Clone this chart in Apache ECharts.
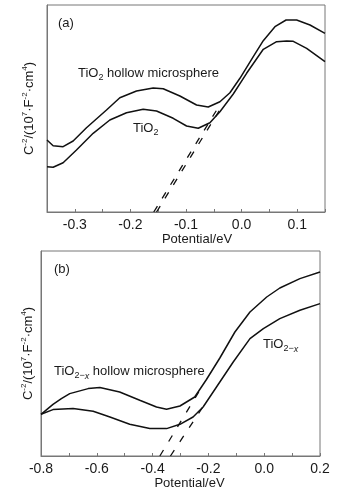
<!DOCTYPE html>
<html>
<head>
<meta charset="utf-8">
<script src="https://cdn.jsdelivr.net/npm/echarts@6/dist/echarts.min.js"></script>
<style>
html,body{margin:0;padding:0;background:#fff;}
#chart{width:345px;height:494px;}
</style>
</head>
<body>
<div id="chart"></div>
<script>
// ---------- Panel (a) data : TiO2 ----------
const aHollowX = [-0.350,-0.339,-0.321,-0.303,-0.279,-0.243,-0.219,-0.189,-0.159,-0.141,-0.111,-0.081,-0.060,-0.039,-0.021,-0.003,0.021,0.039,0.060,0.080,0.099,0.123,0.150];
const aHollowY = [72,66.3,65.3,71,84.3,102,114.3,121,124,123.3,116,107,105,110.3,119.3,133.7,155.3,171.3,185.3,192,192,187,178.7];
const aSolidX = [-0.350,-0.339,-0.321,-0.297,-0.267,-0.237,-0.207,-0.177,-0.153,-0.123,-0.099,-0.078,-0.057,-0.039,-0.015,0.009,0.039,0.063,0.081,0.093,0.117,0.150];
const aSolidY = [45.3,44.7,49.3,62,78.7,92,99.3,102.7,101,93.7,86,83.7,89.3,100.3,118,138.7,162.7,170.3,171,170.7,163.7,150.3];
const aTangent1X = [-0.158,-0.040];
const aTangent1Y = [0,106.3];
const aTangent2X = [-0.153,-0.035];
const aTangent2Y = [0,106];

// ---------- Panel (b) data : TiO2-x ----------
const bHollowX = [-0.800,-0.757,-0.727,-0.697,-0.631,-0.589,-0.518,-0.446,-0.386,-0.350,-0.302,-0.249,-0.207,-0.159,-0.105,-0.051,0.009,0.056,0.128,0.200];
const bHollowY = [41.7,51.7,57.4,62.4,67.4,68.4,64,55.7,49,46.7,50,59,76.5,98,124,144,159,168,177.4,184];
const bSolidX = [-0.800,-0.757,-0.685,-0.613,-0.553,-0.482,-0.410,-0.350,-0.302,-0.255,-0.219,-0.171,-0.111,-0.051,-0.003,0.056,0.128,0.200];
const bSolidY = [41.7,46.4,47.4,44.7,39,31.7,27.4,27.4,31.7,39,49,69,94,117.4,127.4,137.4,145.7,152.4];
const bTangent1X = [-0.374,-0.231];
const bTangent1Y = [0,65.7];
const bTangent2X = [-0.336,-0.216];
const bTangent2Y = [0,50.7];

// ---------- axis / text labels ----------
const xName = 'Potential/eV';
const yName = 'C{sup|-2}/(10{sup|7}·F{sup|-2}·cm{sup|4})';
const panelA = '(a)';
const panelB = '(b)';
const labA1 = 'TiO{sub|2} hollow microsphere';
const labA2 = 'TiO{sub|2}';
const labB1 = 'TiO{sub|2−}{subi|x} hollow microsphere';
const labB2 = 'TiO{sub|2−}{subi|x}';

const FONT = '"Liberation Sans", Arial, Helvetica, sans-serif';
const INK = '#1a1a1a';
const AXC = '#777';

function zip(xs, ys){ return xs.map((x,i)=>[x, ys[i]]); }
function makeFmt(step){
  return function(v){
    const k = v/step;
    if (Math.abs(k - Math.round(k)) > 1e-6) return '';
    if (Math.abs(v) < 1e-9) return '0.0';
    return v.toFixed(1);
  };
}
const supRich = {
  sup:{fontSize:8, lineHeight:8, verticalAlign:'top', fontFamily:FONT, color:INK}
};
const textRich = {
  sub:{fontSize:9, lineHeight:7, verticalAlign:'bottom', fontFamily:FONT, fill:INK, color:INK},
  subi:{fontSize:9, lineHeight:7, verticalAlign:'bottom', fontStyle:'italic', fontFamily:FONT, fill:INK, color:INK}
};

function xAxis(idx, min, max, interval, labStep, padLeft){
  return {
    gridIndex: idx, type:'value', min:min, max:max, interval:interval,
    axisLine:{show:true, onZero:false, lineStyle:{color:AXC, width:1}},
    axisTick:{show:true, inside:true, length:3, lineStyle:{color:AXC}},
    axisLabel:{interval:0, formatter:makeFmt(labStep), margin:6, fontSize:14, color:INK, fontFamily:FONT, showMinLabel:true, showMaxLabel:true},
    splitLine:{show:false},
    name:xName, nameLocation:'middle', nameGap:19,
    nameTextStyle:{fontSize:13, color:INK, fontFamily:FONT, padding:[0,0,0,padLeft]}
  };
}
function yAxis(idx, max, gap){
  return {
    gridIndex: idx, type:'value', min:0, max:max,
    axisLine:{show:true, onZero:false, lineStyle:{color:AXC, width:1}},
    axisTick:{show:false}, axisLabel:{show:false}, splitLine:{show:false},
    name:yName, nameLocation:'middle', nameRotate:90, nameGap:gap,
    nameTextStyle:{fontSize:13, color:INK, fontFamily:FONT, lineHeight:16, rich:supRich}
  };
}
function curve(xi, xs, ys){
  return {type:'line', xAxisIndex:xi, yAxisIndex:xi, data:zip(xs,ys), symbol:'none',
    lineStyle:{color:'#111', width:1.5}, silent:true, animation:false};
}
function dashed(xi, xs, ys, dash){
  return {type:'line', xAxisIndex:xi, yAxisIndex:xi, data:zip(xs,ys), symbol:'none',
    lineStyle:{color:'#111', width:1.3, type:dash}, silent:true, animation:false};
}
function label(txt, x, y){
  return {type:'text', x:x, y:y, silent:true,
    style:{text:txt, fill:INK, fontSize:13, lineHeight:19, fontFamily:FONT, verticalAlign:'middle', align:'left', rich:textRich}};
}

const chart = echarts.init(document.getElementById('chart'), null, {renderer:'canvas'});
chart.setOption({
  animation:false,
  backgroundColor:'#fff',
  textStyle:{fontFamily:FONT},
  grid:[
    {left:47, top:5, width:278, height:207, show:true, borderColor:AXC, borderWidth:1},
    {left:41, top:251, width:279, height:205, show:true, borderColor:AXC, borderWidth:1}
  ],
  xAxis:[ xAxis(0, -0.35, 0.15, 0.05, 0.1, 22), xAxis(1, -0.8, 0.2, 0.1, 0.2, 18) ],
  yAxis:[ yAxis(0, 207, 10), yAxis(1, 205, 5) ],
  series:[
    curve(0, aHollowX, aHollowY),
    curve(0, aSolidX, aSolidY),
    dashed(0, aTangent1X, aTangent1Y, [7,9]),
    dashed(0, aTangent2X, aTangent2Y, [7,9]),
    curve(1, bHollowX, bHollowY),
    curve(1, bSolidX, bSolidY),
    dashed(1, bTangent1X, bTangent1Y, [7,10]),
    dashed(1, bTangent2X, bTangent2Y, [7,10])
  ],
  graphic:[
    label(panelA, 58, 23),
    label(labA1, 78, 73),
    label(labA2, 133, 128),
    label(panelB, 54, 269),
    label(labB1, 54, 371),
    label(labB2, 263, 344)
  ]
});
</script>
</body>
</html>
